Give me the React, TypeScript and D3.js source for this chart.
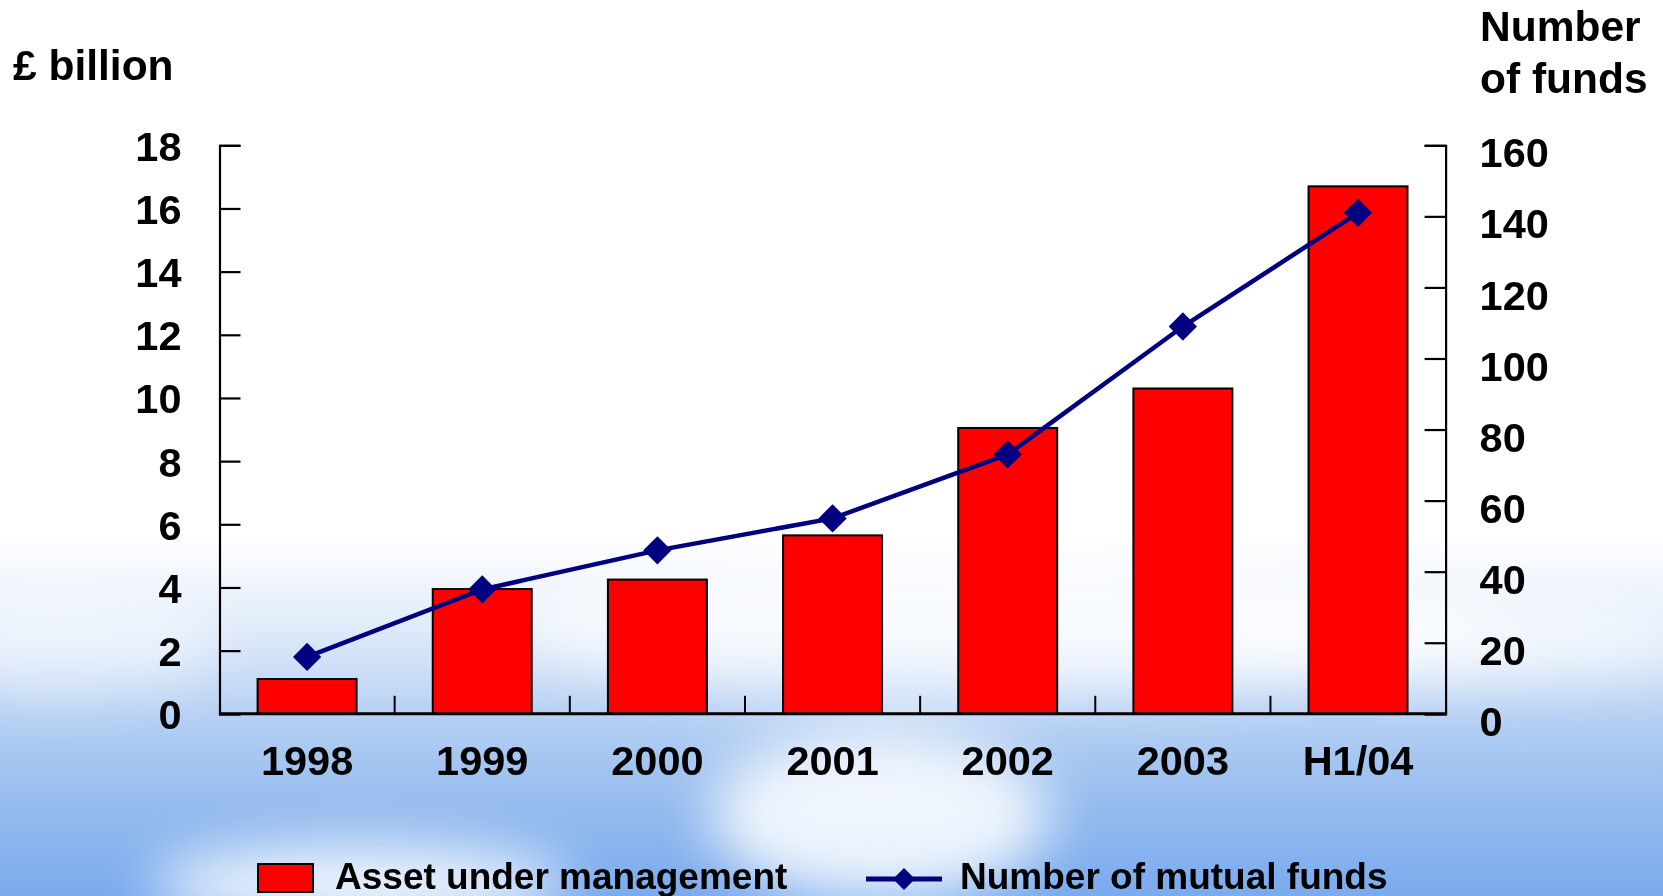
import React, {useEffect, useRef} from "react";
import * as d3 from "d3";

// data
const categories = ['1998', '1999', '2000', '2001', '2002', '2003', 'H1/04'];
const assets = [1.1, 3.95, 4.25, 5.65, 9.05, 10.3, 16.7];   // £ billion
const funds = [16, 35, 46, 55, 73, 109, 141];               // number of funds
const leftTicks = [0, 2, 4, 6, 8, 10, 12, 14, 16, 18];
const rightTicks = [0, 20, 40, 60, 80, 100, 120, 140, 160];

const W = 1663;
const H = 896;
const FONT = '"Liberation Sans", Arial, Helvetica, sans-serif';

export default function App() {
    const svgRef = useRef<SVGSVGElement>(null);

    useEffect(() => {
        document.body.style.margin = '0';
        const svg = d3.select(svgRef.current);
        svg.selectAll('*').remove();

        const left = 219.5, right = 1445.6, top = 145.3, bottom = 713.8;

        // background: white sky fading into blue with soft clouds
        const defs = svg.append('defs');
        const grad = defs.append('linearGradient').attr('id', 'sky')
            .attr('x1', 0).attr('y1', 0).attr('x2', 0).attr('y2', 1);
        [[0, '#ffffff'], [0.6, '#ffffff'], [0.7, '#e0ebfa'], [0.8, '#b6d0f3'], [0.9, '#94bbee'], [1, '#7aabee']]
            .forEach(([o, c]) => grad.append('stop').attr('offset', o as number).attr('stop-color', c as string));
        defs.append('filter').attr('id', 'blur').attr('x', '-50%').attr('y', '-50%').attr('width', '200%').attr('height', '200%')
            .append('feGaussianBlur').attr('stdDeviation', 28);

        svg.append('rect').attr('width', W).attr('height', H).attr('fill', 'url(#sky)');
        const clouds = svg.append('g').attr('filter', 'url(#blur)');
        clouds.append('ellipse').attr('cx', 360).attr('cy', 885).attr('rx', 210).attr('ry', 40).attr('fill', '#ffffff').attr('opacity', 0.9);
        clouds.append('ellipse').attr('cx', 880).attr('cy', 815).attr('rx', 170).attr('ry', 85).attr('fill', '#ffffff').attr('opacity', 0.85);
        clouds.append('ellipse').attr('cx', 1450).attr('cy', 640).attr('rx', 250).attr('ry', 40).attr('fill', '#ffffff').attr('opacity', 0.7);
        clouds.append('ellipse').attr('cx', 60).attr('cy', 640).attr('rx', 160).attr('ry', 50).attr('fill', '#ffffff').attr('opacity', 0.5);
        clouds.append('ellipse').attr('cx', 1000).attr('cy', 625).attr('rx', 500).attr('ry', 65).attr('fill', '#ffffff').attr('opacity', 0.75);

        // scales
        const x = d3.scaleBand<string>().domain(categories).range([left, right]).padding(0);
        const barW = x.bandwidth() * 0.565;
        const yL = d3.scaleLinear().domain([0, 18]).range([bottom, top]);
        const yR = d3.scaleLinear().domain([0, 160]).range([bottom, top]);

        // bars
        svg.append('g').selectAll('rect')
            .data(assets)
            .join('rect')
            .attr('x', (d, i) => x(categories[i])! + (x.bandwidth() - barW) / 2)
            .attr('y', d => yL(d))
            .attr('width', barW)
            .attr('height', d => bottom - yL(d))
            .attr('fill', '#ff0000')
            .attr('stroke', '#000')
            .attr('stroke-width', 2);

        // axes
        const leftAxis = d3.axisLeft(yL).tickValues(leftTicks).tickSize(-21).tickPadding(38).tickFormat(d3.format('d'));
        svg.append('g')
            .attr('transform', `translate(${left},0)`)
            .call(leftAxis)
            .call(g => g.select('.domain').attr('stroke-width', 2.2))
            .call(g => g.selectAll('.tick line').attr('stroke-width', 2.2))
            .call(g => g.selectAll('.tick text')
                .attr('font-family', FONT).attr('font-weight', 'bold').attr('font-size', 41.5).attr('fill', '#000')
                .attr('dy', '0.36em'));

        const rightAxis = d3.axisRight(yR).tickValues(rightTicks).tickSize(-21).tickPadding(34).tickFormat(d3.format('d'));
        svg.append('g')
            .attr('transform', `translate(${right},0)`)
            .call(rightAxis)
            .call(g => g.select('.domain').attr('stroke-width', 2.2))
            .call(g => g.selectAll('.tick line').attr('stroke-width', 2.2))
            .call(g => g.selectAll('.tick text')
                .attr('font-family', FONT).attr('font-weight', 'bold').attr('font-size', 41.5).attr('fill', '#000')
                .attr('dy', '0.52em'));

        const bottomAxis = d3.axisBottom(x).tickSize(0).tickPadding(32);
        svg.append('g')
            .attr('transform', `translate(0,${bottom})`)
            .call(bottomAxis)
            .call(g => g.select('.domain').attr('stroke-width', 3).attr('d', `M${left},0H${right}`))
            .call(g => g.selectAll('.tick text')
                .attr('font-family', FONT).attr('font-weight', 'bold').attr('font-size', 41.5).attr('fill', '#000'));

        // small tick marks between categories
        svg.append('g').selectAll('line')
            .data(categories.slice(1))
            .join('line')
            .attr('x1', d => x(d)!).attr('x2', d => x(d)!)
            .attr('y1', bottom).attr('y2', bottom - 18)
            .attr('stroke', '#000').attr('stroke-width', 2);

        // line of funds
        const line = d3.line<number>()
            .x((d, i) => x(categories[i])! + x.bandwidth() / 2)
            .y(d => yR(d));
        svg.append('path')
            .datum(funds)
            .attr('d', line)
            .attr('fill', 'none')
            .attr('stroke', '#000080')
            .attr('stroke-width', 4.5);
        const diamond = d3.symbol().type(d3.symbolSquare).size(400);
        svg.append('g').selectAll('path')
            .data(funds)
            .join('path')
            .attr('d', diamond)
            .attr('transform', (d, i) => `translate(${x(categories[i])! + x.bandwidth() / 2},${yR(d)}) rotate(45)`)
            .attr('fill', '#000080');

        // axis titles
        const title = (tx: number, ty: number, s: string) => svg.append('text')
            .attr('x', tx).attr('y', ty).text(s)
            .attr('font-family', FONT).attr('font-weight', 'bold').attr('font-size', 42.5).attr('fill', '#000');
        title(13, 80, '£ billion');
        title(1480, 41, 'Number');
        title(1480, 93, 'of funds');

        // legend
        const lg = svg.append('g');
        lg.append('rect').attr('x', 258).attr('y', 864).attr('width', 55).attr('height', 28)
            .attr('fill', '#ff0000').attr('stroke', '#000').attr('stroke-width', 2);
        lg.append('text').attr('x', 335).attr('y', 889).text('Asset under management')
            .attr('font-family', FONT).attr('font-weight', 'bold').attr('font-size', 37).attr('fill', '#000');
        lg.append('line').attr('x1', 866).attr('x2', 942).attr('y1', 879).attr('y2', 879)
            .attr('stroke', '#000080').attr('stroke-width', 5);
        lg.append('path').attr('d', d3.symbol().type(d3.symbolSquare).size(240)())
            .attr('transform', 'translate(904,879) rotate(45)').attr('fill', '#000080');
        lg.append('text').attr('x', 960).attr('y', 889).text('Number of mutual funds')
            .attr('font-family', FONT).attr('font-weight', 'bold').attr('font-size', 37).attr('fill', '#000');
    }, []);

    return (
        <svg ref={svgRef} width={W} height={H} style={{display: 'block'}} />
    );
}
